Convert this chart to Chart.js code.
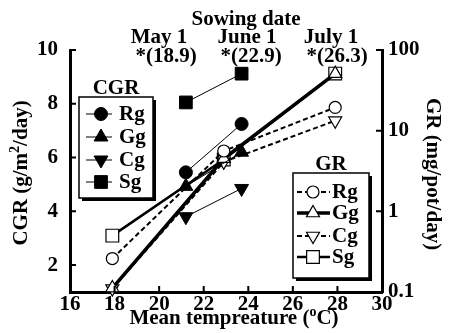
<!DOCTYPE html>
<html>
<head>
<meta charset="utf-8">
<script src="https://cdn.jsdelivr.net/npm/chart.js@4/dist/chart.umd.min.js"></script>
<style>
  html, body { margin: 0; padding: 0; background: #fff; }
  #wrap { width: 449px; height: 333px; }
</style>
</head>
<body>
<div id="wrap"><canvas id="chart" width="449" height="333"></canvas></div>
<script>
// mean temperature of each sampling (x)
const tempCGR = [21.2, 23.7];
const tempGR = [17.9, 22.9, 27.9];

// crop growth rate, g/m2/day (left axis)
const cgrRg = [5.45, 7.25];
const cgrGg = [4.93, 6.2];
const cgrCg = [3.8, 4.85];
const cgrSg = [8.05, 9.12];

// growth rate, mg/pot/day (right axis, log)
const grRg = [0.26, 5.6, 19.4];
const grGg = [0.112, 4.5, 51];
const grCg = [0.11, 4.1, 13.3];
const grSg = [0.5, 4.4, 51];

const xTicks = [16, 18, 20, 22, 24, 26, 28, 30];
const cgrTicks = [2, 4, 6, 8, 10];
const grTicks = [0.1, 1, 10, 100];

const sowing = [['May 1', '*(18.9)'], ['June 1', '*(22.9)'], ['July 1', '*(26.3)']];

const FONT = 'bold 21px "Liberation Serif", "Times New Roman", serif';

const pts = (xs, ys) => xs.map((x, i) => ({ x: x, y: ys[i] }));

const cgrSet = (label, ys, style, radius, rot) => ({
  label: label,
  data: pts(tempCGR, ys),
  yAxisID: 'y',
  borderColor: '#000',
  borderWidth: 1,
  pointStyle: style,
  pointRadius: radius,
  pointRotation: rot || 0,
  pointBackgroundColor: '#000',
  pointBorderColor: '#000',
  pointBorderWidth: 1,
  clip: false
});

const grSet = (label, ys, style, radius, width, dash, rot) => ({
  label: label,
  data: pts(tempGR, ys),
  yAxisID: 'y1',
  borderColor: '#000',
  borderWidth: width,
  borderDash: dash,
  pointStyle: style,
  pointRadius: radius,
  pointRotation: rot || 0,
  pointBackgroundColor: '#fff',
  pointBorderColor: '#000',
  pointBorderWidth: 1.2,
  clip: false
});

const cgrSets = [
  cgrSet('Rg', cgrRg, 'circle', 6.5),
  cgrSet('Gg', cgrGg, 'triangle', 8),
  cgrSet('Cg', cgrCg, 'triangle', 8, 180),
  cgrSet('Sg', cgrSg, 'rect', 9)
];
const grSets = [
  grSet('Rg', grRg, 'circle', 6, 2, [5, 3]),
  grSet('Gg', grGg, 'triangle', 7.5, 3.5, []),
  grSet('Cg', grCg, 'triangle', 7.5, 2, [5, 3], 180),
  grSet('Sg', grSg, 'rect', 9, 2.5, [])
];

// text made of plain and raised pieces, centred on 0,0
const drawParts = (ctx, parts) => {
  const big = FONT, small = 'bold 14px "Liberation Serif", serif';
  let w = 0;
  parts.forEach(p => { ctx.font = p.sup ? small : big; w += ctx.measureText(p.t).width; });
  let x = -w / 2;
  ctx.textAlign = 'left';
  ctx.textBaseline = 'middle';
  parts.forEach(p => {
    ctx.font = p.sup ? small : big;
    ctx.fillText(p.t, x, p.sup ? -7 : 0);
    x += ctx.measureText(p.t).width;
  });
};

const drawLegend = (ctx, title, sets, box, rowY, lineX, markX, textX) => {
  ctx.save();
  ctx.fillStyle = '#000';
  ctx.fillRect(box[0] + 3, box[1] + 3, box[2], box[3]);
  ctx.fillStyle = '#fff';
  ctx.fillRect(box[0], box[1], box[2], box[3]);
  ctx.strokeStyle = '#000';
  ctx.lineWidth = 1.5;
  ctx.strokeRect(box[0], box[1], box[2], box[3]);
  ctx.fillStyle = '#000';
  ctx.font = FONT;
  ctx.textAlign = 'center';
  ctx.textBaseline = 'alphabetic';
  ctx.fillText(title, box[0] + box[2] / 2, box[1] - 3);
  sets.forEach((ds, i) => {
    const y = rowY[i];
    ctx.save();
    ctx.lineWidth = ds.borderWidth;
    ctx.setLineDash(ds.borderDash || []);
    ctx.beginPath();
    ctx.moveTo(lineX[0], y);
    ctx.lineTo(lineX[1], y);
    ctx.stroke();
    ctx.restore();
    ctx.fillStyle = ds.pointBackgroundColor;
    ctx.strokeStyle = '#000';
    ctx.lineWidth = ds.pointBorderWidth;
    ctx.setLineDash([]);
    Chart.helpers.drawPoint(ctx, {
      pointStyle: ds.pointStyle,
      radius: ds.pointRadius,
      rotation: ds.pointRotation,
      borderWidth: ds.pointBorderWidth
    }, markX, y);
    ctx.fillStyle = '#000';
    ctx.font = FONT;
    ctx.textAlign = 'left';
    ctx.textBaseline = 'middle';
    ctx.fillText(ds.label, textX, y + 1);
  });
  ctx.restore();
};

const decor = {
  id: 'decor',
  afterDraw(chart) {
    const ctx = chart.ctx;
    const a = chart.chartArea;
    const sx = chart.scales.x, sy = chart.scales.y, sy1 = chart.scales.y1;
    ctx.save();
    ctx.strokeStyle = '#000';
    ctx.lineWidth = 2;
    ctx.beginPath();
    xTicks.slice(1, -1).forEach(v => {
      const px = sx.getPixelForValue(v);
      ctx.moveTo(px, a.bottom);
      ctx.lineTo(px, a.bottom - 6);
    });
    cgrTicks.forEach(v => {
      const py = sy.getPixelForValue(v);
      ctx.moveTo(a.left, py);
      ctx.lineTo(a.left + 6, py);
    });
    grTicks.slice(1).forEach(v => {
      const py = sy1.getPixelForValue(v);
      ctx.moveTo(a.right, py);
      ctx.lineTo(a.right - 6, py);
    });
    ctx.stroke();

    ctx.fillStyle = '#000';
    ctx.font = FONT;
    ctx.textAlign = 'center';
    ctx.textBaseline = 'middle';
    ctx.fillText('Sowing date', 246, 20);
    const cx = [[159, 166], [247, 251], [331, 337]];
    sowing.forEach((s, i) => {
      ctx.fillText(s[0], cx[i][0], 38);
      ctx.fillText(s[1], cx[i][1], 57);
    });

    ctx.save();
    ctx.translate(234, 319);
    drawParts(ctx, [{ t: 'Mean tempreature (' }, { t: 'o', sup: true }, { t: 'C)' }]);
    ctx.restore();

    ctx.save();
    ctx.translate(22, 173);
    ctx.rotate(-Math.PI / 2);
    drawParts(ctx, [{ t: 'CGR (g/m' }, { t: '2', sup: true }, { t: '/day)' }]);
    ctx.restore();

    ctx.save();
    ctx.translate(432, 174);
    ctx.rotate(Math.PI / 2);
    drawParts(ctx, [{ t: 'GR (mg/pot/day)' }]);
    ctx.restore();
    ctx.restore();

    drawLegend(ctx, 'CGR', cgrSets, [79, 97, 74, 101], [114, 137, 160, 182], [86, 112], 101, 119);
    drawLegend(ctx, 'GR', grSets, [293, 173, 76, 105], [192, 213, 236, 257], [297, 330], 313, 332);
  }
};

const tickFont = { family: '"Liberation Serif", "Times New Roman", serif', size: 21, weight: 'bold' };

new Chart(document.getElementById('chart'), {
  type: 'line',
  data: { datasets: [...cgrSets, ...grSets] },
  options: {
    responsive: false,
    animation: false,
    layout: { padding: { top: 50, left: 0, right: 0, bottom: 0 } },
    plugins: { legend: { display: false }, tooltip: { enabled: false } },
    scales: {
      x: {
        type: 'linear',
        min: 16,
        max: 30,
        afterBuildTicks: s => { s.ticks = xTicks.map(v => ({ value: v })); },
        afterFit: s => { s.height = 41; },
        grid: { display: false, drawTicks: false },
        border: { display: true, width: 3, color: '#000' },
        ticks: { color: '#000', font: tickFont, padding: 0, maxRotation: 0, autoSkip: false }
      },
      y: {
        type: 'linear',
        position: 'left',
        min: 1,
        max: 10,
        afterBuildTicks: s => { s.ticks = cgrTicks.map(v => ({ value: v })); },
        afterFit: s => { s.width = 70; },
        grid: { display: false, drawTicks: false },
        border: { display: true, width: 3, color: '#000' },
        ticks: { color: '#000', font: tickFont, padding: 12 }
      },
      y1: {
        type: 'logarithmic',
        position: 'right',
        min: 0.1,
        max: 100,
        afterBuildTicks: s => { s.ticks = grTicks.map(v => ({ value: v })); },
        afterFit: s => { s.width = 67; },
        grid: { display: false, drawTicks: false },
        border: { display: true, width: 3, color: '#000' },
        ticks: { color: '#000', font: tickFont, padding: 6, callback: v => String(v) }
      }
    }
  },
  plugins: [decor]
});
</script>
</body>
</html>
